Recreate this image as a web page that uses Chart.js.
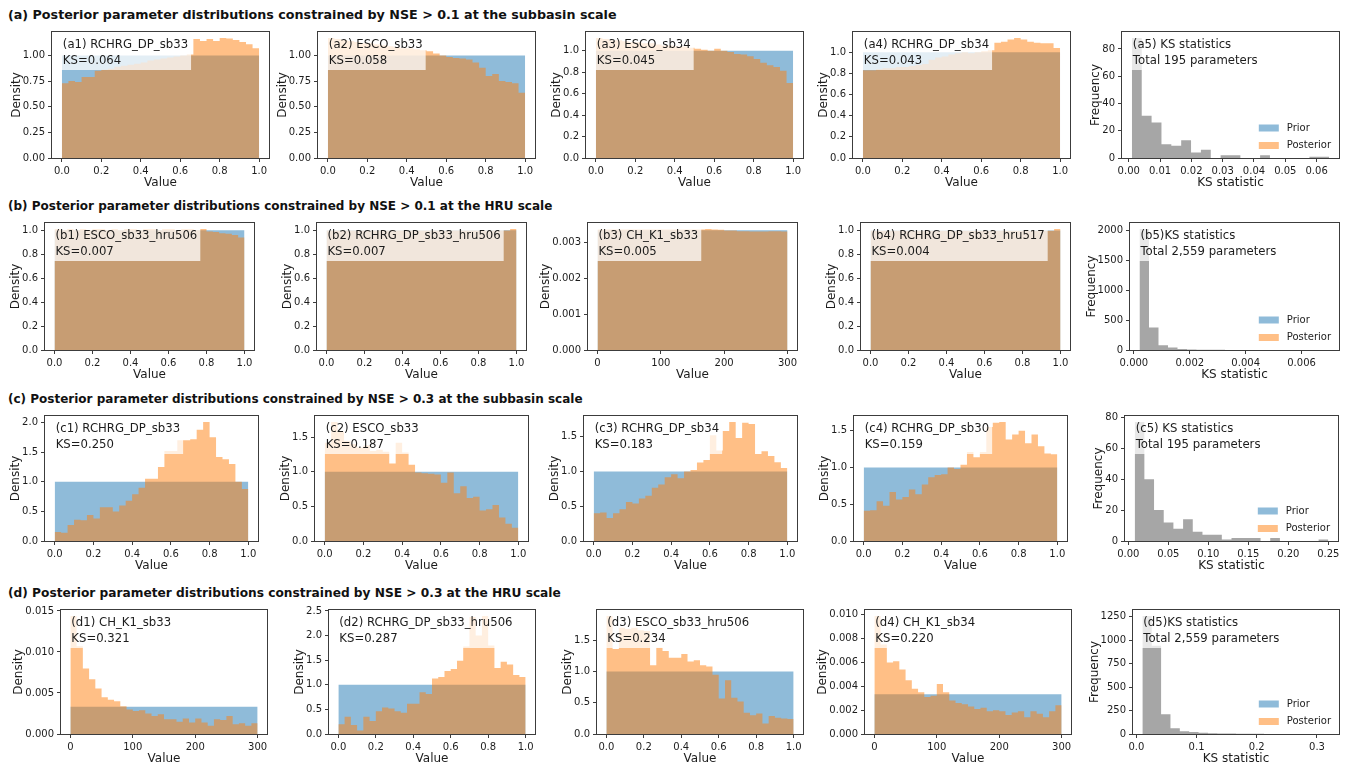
<!DOCTYPE html>
<html>
<head>
<meta charset="utf-8">
<script src="https://cdn.jsdelivr.net/npm/chart.js@4.4.1/dist/chart.umd.min.js"></script>
<style>
  html, body { margin: 0; padding: 0; background: #fff; }
  #fig { position: relative; width: 1351px; height: 768px; overflow: hidden; background: #fff; }
  #fig canvas { position: absolute; }
  .row-title { position: absolute; left: 8px; font-family: "DejaVu Sans", sans-serif; font-weight: bold; color: #111; white-space: nowrap; line-height: 14px; }
</style>
</head>
<body>
<div id="fig"></div>
<script>
// ---------- row headings ----------
const ROW_TITLES = [
  '(a) Posterior parameter distributions constrained by NSE > 0.1 at the subbasin scale',
  '(b) Posterior parameter distributions constrained by NSE > 0.1 at the HRU scale',
  '(c) Posterior parameter distributions constrained by NSE > 0.3 at the subbasin scale',
  '(d) Posterior parameter distributions constrained by NSE > 0.3 at the HRU scale'
];

// ---------- parameter ranges (histogram limits, 30 bins) ----------
const RANGE_UNIT = [0, 1];
const RANGE_CH_K1 = [0, 300];

// ---------- prior densities (uniform sampling) ----------
const PRIOR_UNIT = [1.00, 1.00, 1.00, 1.00, 1.00, 1.00, 1.00, 1.00, 1.00, 1.00,
                    1.00, 1.00, 1.00, 1.00, 1.00, 1.00, 1.00, 1.00, 1.00, 1.00,
                    1.00, 1.00, 1.00, 1.00, 1.00, 1.00, 1.00, 1.00, 1.00, 1.00];
const PRIOR_CH_K1 = [0.00333, 0.00333, 0.00333, 0.00333, 0.00333, 0.00333, 0.00333, 0.00333, 0.00333, 0.00333,
                     0.00333, 0.00333, 0.00333, 0.00333, 0.00333, 0.00333, 0.00333, 0.00333, 0.00333, 0.00333,
                     0.00333, 0.00333, 0.00333, 0.00333, 0.00333, 0.00333, 0.00333, 0.00333, 0.00333, 0.00333];

// ---------- posterior densities ----------
const POST_A1 = [0.73, 0.75, 0.74, 0.79, 0.79, 0.85, 0.86, 0.87, 0.89, 0.90,
                 0.91, 0.92, 0.93, 0.95, 0.96, 0.97, 0.98, 0.99, 1.00, 1.01,
                 1.16, 1.14, 1.16, 1.14, 1.17, 1.165, 1.15, 1.13, 1.11, 1.07];
const POST_A2 = [1.17, 1.16, 1.15, 1.14, 1.13, 1.12, 1.12, 1.11, 1.10, 1.09,
                 1.08, 1.07, 1.07, 1.06, 1.05, 1.04, 1.02, 1.00, 0.985, 0.975,
                 0.97, 0.96, 0.93, 0.88, 0.80, 0.82, 0.75, 0.74, 0.73, 0.635];
const POST_A3 = [1.12, 1.11, 1.10, 1.10, 1.09, 1.08, 1.08, 1.07, 1.07, 1.06,
                 1.05, 1.05, 1.04, 1.04, 1.03, 1.02, 1.01, 1.00, 1.02, 1.00,
                 0.99, 0.97, 0.965, 0.95, 0.925, 0.89, 0.865, 0.85, 0.815, 0.70];
const POST_A4 = [0.83, 0.83, 0.84, 0.85, 0.85, 0.86, 0.86, 0.87, 0.88, 0.89,
                 0.93, 0.95, 0.96, 0.98, 0.99, 1.00, 0.99, 1.00, 1.01, 1.02,
                 1.09, 1.10, 1.12, 1.135, 1.12, 1.10, 1.09, 1.085, 1.085, 1.04];

const POST_B1 = [1.01, 1.00, 1.01, 1.00, 1.01, 1.00, 1.01, 1.01, 1.00, 1.01,
                 1.00, 1.01, 1.01, 1.00, 1.01, 1.01, 1.00, 1.01, 1.01, 1.00,
                 1.01, 1.01, 1.00, 1.01, 0.99, 0.985, 0.975, 0.97, 0.96, 0.94];
const POST_B2 = [0.997, 0.998, 0.997, 0.998, 0.997, 0.998, 0.997, 0.998, 0.997, 0.998,
                 0.997, 0.998, 0.997, 0.998, 0.997, 0.998, 0.997, 0.998, 0.997, 0.998,
                 0.997, 0.998, 0.997, 0.998, 0.997, 0.998, 0.997, 0.998, 0.997, 1.01];
const POST_B3 = [0.00335, 0.00335, 0.00335, 0.00335, 0.00335, 0.00335, 0.00335, 0.00335, 0.00335, 0.00335,
                 0.00335, 0.00335, 0.00335, 0.00335, 0.00335, 0.00335, 0.00335, 0.00336, 0.00335, 0.00334,
                 0.00332, 0.00332, 0.00330, 0.00330, 0.00329, 0.00329, 0.00329, 0.00330, 0.00330, 0.00329];
const POST_B4 = [0.998, 0.997, 0.998, 0.997, 0.998, 0.997, 0.998, 0.997, 0.998, 0.997,
                 0.998, 0.997, 0.998, 0.997, 0.998, 0.997, 0.998, 0.997, 0.998, 0.997,
                 0.998, 0.997, 0.998, 0.997, 0.998, 0.997, 0.998, 0.997, 0.998, 1.012];

const POST_C1 = [0.15, 0.14, 0.27, 0.36, 0.35, 0.44, 0.38, 0.57, 0.57, 0.50,
                 0.60, 0.68, 0.79, 0.90, 1.05, 1.05, 1.25, 1.52, 1.52, 1.70,
                 1.70, 1.72, 1.88, 2.01, 1.75, 1.42, 1.38, 1.30, 1.00, 0.88];
const POST_C2 = [1.42, 1.72, 1.58, 1.45, 1.40, 1.35, 1.38, 1.30, 1.32, 1.29,
                 1.12, 1.42, 1.28, 1.10, 0.99, 0.98, 0.97, 0.96, 0.84, 0.99,
                 0.69, 0.79, 0.62, 0.64, 0.44, 0.46, 0.52, 0.34, 0.25, 0.19];
const POST_C3 = [0.40, 0.41, 0.33, 0.40, 0.455, 0.56, 0.54, 0.61, 0.65, 0.765,
                 0.81, 0.915, 0.96, 0.90, 1.00, 1.02, 1.127, 1.164, 1.52, 1.30,
                 1.58, 1.71, 1.48, 1.70, 1.68, 1.25, 1.29, 1.22, 1.13, 1.05];
const POST_C4 = [0.41, 0.42, 0.54, 0.48, 0.667, 0.564, 0.60, 0.70, 0.636, 0.77,
                 0.867, 0.898, 0.91, 1.00, 0.98, 1.036, 1.21, 1.14, 1.21, 1.55,
                 1.61, 1.62, 1.38, 1.45, 1.50, 1.33, 1.45, 1.29, 1.19, 1.18];

const POST_D1 = [0.0144, 0.0107, 0.0080, 0.00667, 0.00556, 0.00448, 0.00417, 0.0040, 0.00337, 0.0030,
                 0.0028, 0.0029, 0.0025, 0.0022, 0.0024, 0.0018, 0.0018, 0.0015, 0.0019, 0.0014,
                 0.0019, 0.0014, 0.0010, 0.0018, 0.0017, 0.0022, 0.0012, 0.0013, 0.0010, 0.0013];
const POST_D2 = [0.20, 0.35, 0.185, 0.073, 0.35, 0.265, 0.46, 0.54, 0.52, 0.46,
                 0.43, 0.615, 0.615, 0.85, 0.815, 1.126, 1.16, 1.28, 1.32, 1.49,
                 1.78, 2.38, 2.00, 2.40, 1.80, 1.34, 1.47, 1.41, 1.20, 1.16];
const POST_D3 = [1.89, 1.36, 1.70, 1.68, 1.70, 1.66, 1.65, 1.10, 1.38, 1.33,
                 1.22, 1.22, 1.28, 1.16, 1.18, 1.10, 1.08, 0.95, 0.57, 0.86,
                 0.58, 0.52, 0.34, 0.30, 0.33, 0.17, 0.29, 0.26, 0.25, 0.24];
const POST_D4 = [0.0099, 0.0075, 0.0060, 0.0061, 0.0054, 0.0045, 0.0038, 0.0035, 0.0031, 0.0032,
                 0.0042, 0.0035, 0.0028, 0.0026, 0.0025, 0.0023, 0.0021, 0.0022, 0.0019, 0.0020,
                 0.0019, 0.0016, 0.0018, 0.0019, 0.0014, 0.0019, 0.0017, 0.0014, 0.0019, 0.0024];

// ---------- KS statistic histograms (20 bins between min and max KS) ----------
const KS_RANGE_A = [0.001, 0.064];
const KS_RANGE_B = [0.0002, 0.007];
const KS_RANGE_C = [0.008, 0.250];
const KS_RANGE_D = [0.010, 0.321];
const KS_COUNTS_A = [88, 31, 26, 10, 9, 13, 4, 6, 0, 2, 2, 0, 0, 2, 0, 0, 0, 0, 1, 1];
const KS_COUNTS_B = [2016, 376, 80, 43, 16, 10, 5, 4, 3, 2, 1, 1, 1, 0, 0, 0, 0, 0, 0, 1];
const KS_COUNTS_C = [77, 40, 20, 12, 8, 14, 6, 4, 4, 1, 2, 2, 2, 0, 2, 0, 0, 0, 0, 1];
const KS_COUNTS_D = [1259, 940, 210, 60, 30, 20, 12, 8, 5, 4, 3, 2, 2, 1, 1, 0, 0, 1, 0, 1];

// ---------- tick labels ----------
const XT_UNIT = [0, 0.2, 0.4, 0.6, 0.8, 1.0];
const XT_CH_K1 = [0, 100, 200, 300];
const XT_KS_A = [0, 0.01, 0.02, 0.03, 0.04, 0.05, 0.06];
const XT_KS_B = [0, 0.002, 0.004, 0.006];
const XT_KS_C = [0, 0.05, 0.10, 0.15, 0.20, 0.25];
const XT_KS_D = [0, 0.1, 0.2, 0.3];
const YT_QUARTER = [0, 0.25, 0.5, 0.75, 1.0];
const YT_FIFTH = [0, 0.2, 0.4, 0.6, 0.8, 1.0];
const YT_HALF_15 = [0, 0.5, 1.0, 1.5];
const YT_HALF_20 = [0, 0.5, 1.0, 1.5, 2.0];
const YT_HALF_25 = [0, 0.5, 1.0, 1.5, 2.0, 2.5];
const YT_K1_B = [0, 0.001, 0.002, 0.003];
const YT_K1_D1 = [0, 0.005, 0.010, 0.015];
const YT_K1_D4 = [0, 0.002, 0.004, 0.006, 0.008, 0.010];
const YT_FREQ_A = [0, 20, 40, 60, 80];
const YT_FREQ_B = [0, 500, 1000, 1500, 2000];
const YT_FREQ_D = [0, 250, 500, 750, 1000, 1250];

// ---------- series names ----------
const LEGEND_LABELS = ['Prior', 'Posterior'];

// ---------- styling ----------
const FONT = '"DejaVu Sans", "Liberation Sans", sans-serif';
const PRIOR_COLOR = 'rgba(31,119,180,0.5)';
const POST_COLOR = 'rgba(255,127,14,0.5)';
const KS_COLOR = 'rgba(128,128,128,0.7)';
const BOX_FILL = 'rgba(255,255,255,0.75)';
const SPINE = '#3c3c3c';
const INK = '#1c1c1c';
const TICK_PX = 10, LABEL_PX = 12, TEXT_PX = 11.7, LEGEND_PX = 10;
const ROW_TITLE_PX = [12.7, 12, 12, 12.2];

// ---------- grid geometry (axes frames, one set per row) ----------
const ROW_COL_LEFT = [
  [52, 318, 586, 853, 1122],
  [45, 317, 588, 861, 1130],
  [45, 315, 584, 854, 1125],
  [61, 329, 597, 865, 1133]
];
const ROW_W = [217, 209, 213, 206];
const ROW_TOP = [29, 220, 413, 607];
const ROW_H = [129, 130, 128, 127];
const PAD_L = 64, PAD_R = 10, PAD_T = 6, PAD_B = 38;

// ---------- panels ----------
const PANELS = [
  { row: 0, col: 0, tag: '(a1) RCHRG_DP_sb33', sub: 'KS=0.064', range: RANGE_UNIT, prior: PRIOR_UNIT, post: POST_A1, xt: XT_UNIT, xd: 1, yt: YT_QUARTER, yd: 2 },
  { row: 0, col: 1, tag: '(a2) ESCO_sb33', sub: 'KS=0.058', range: RANGE_UNIT, prior: PRIOR_UNIT, post: POST_A2, xt: XT_UNIT, xd: 1, yt: YT_QUARTER, yd: 2 },
  { row: 0, col: 2, tag: '(a3) ESCO_sb34', sub: 'KS=0.045', range: RANGE_UNIT, prior: PRIOR_UNIT, post: POST_A3, xt: XT_UNIT, xd: 1, yt: YT_FIFTH, yd: 1 },
  { row: 0, col: 3, tag: '(a4) RCHRG_DP_sb34', sub: 'KS=0.043', range: RANGE_UNIT, prior: PRIOR_UNIT, post: POST_A4, xt: XT_UNIT, xd: 1, yt: YT_FIFTH, yd: 1 },
  { row: 0, col: 4, tag: '(a5) KS statistics', sub: 'Total 195 parameters', range: KS_RANGE_A, counts: KS_COUNTS_A, xt: XT_KS_A, xd: 2, yt: YT_FREQ_A, yd: 0 },

  { row: 1, col: 0, tag: '(b1) ESCO_sb33_hru506', sub: 'KS=0.007', range: RANGE_UNIT, prior: PRIOR_UNIT, post: POST_B1, xt: XT_UNIT, xd: 1, yt: YT_FIFTH, yd: 1 },
  { row: 1, col: 1, tag: '(b2) RCHRG_DP_sb33_hru506', sub: 'KS=0.007', range: RANGE_UNIT, prior: PRIOR_UNIT, post: POST_B2, xt: XT_UNIT, xd: 1, yt: YT_FIFTH, yd: 1 },
  { row: 1, col: 2, tag: '(b3) CH_K1_sb33', sub: 'KS=0.005', range: RANGE_CH_K1, prior: PRIOR_CH_K1, post: POST_B3, xt: XT_CH_K1, xd: 0, yt: YT_K1_B, yd: 3 },
  { row: 1, col: 3, tag: '(b4) RCHRG_DP_sb33_hru517', sub: 'KS=0.004', range: RANGE_UNIT, prior: PRIOR_UNIT, post: POST_B4, xt: XT_UNIT, xd: 1, yt: YT_FIFTH, yd: 1 },
  { row: 1, col: 4, tag: '(b5)KS statistics', sub: 'Total 2,559 parameters', range: KS_RANGE_B, counts: KS_COUNTS_B, xt: XT_KS_B, xd: 3, yt: YT_FREQ_B, yd: 0 },

  { row: 2, col: 0, tag: '(c1) RCHRG_DP_sb33', sub: 'KS=0.250', range: RANGE_UNIT, prior: PRIOR_UNIT, post: POST_C1, xt: XT_UNIT, xd: 1, yt: YT_HALF_20, yd: 1 },
  { row: 2, col: 1, tag: '(c2) ESCO_sb33', sub: 'KS=0.187', range: RANGE_UNIT, prior: PRIOR_UNIT, post: POST_C2, xt: XT_UNIT, xd: 1, yt: YT_HALF_15, yd: 1 },
  { row: 2, col: 2, tag: '(c3) RCHRG_DP_sb34', sub: 'KS=0.183', range: RANGE_UNIT, prior: PRIOR_UNIT, post: POST_C3, xt: XT_UNIT, xd: 1, yt: YT_HALF_15, yd: 1 },
  { row: 2, col: 3, tag: '(c4) RCHRG_DP_sb30', sub: 'KS=0.159', range: RANGE_UNIT, prior: PRIOR_UNIT, post: POST_C4, xt: XT_UNIT, xd: 1, yt: YT_HALF_15, yd: 1 },
  { row: 2, col: 4, tag: '(c5) KS statistics', sub: 'Total 195 parameters', range: KS_RANGE_C, counts: KS_COUNTS_C, xt: XT_KS_C, xd: 2, yt: YT_FREQ_A, yd: 0 },

  { row: 3, col: 0, tag: '(d1) CH_K1_sb33', sub: 'KS=0.321', range: RANGE_CH_K1, prior: PRIOR_CH_K1, post: POST_D1, xt: XT_CH_K1, xd: 0, yt: YT_K1_D1, yd: 3 },
  { row: 3, col: 1, tag: '(d2) RCHRG_DP_sb33_hru506', sub: 'KS=0.287', range: RANGE_UNIT, prior: PRIOR_UNIT, post: POST_D2, xt: XT_UNIT, xd: 1, yt: YT_HALF_25, yd: 1 },
  { row: 3, col: 2, tag: '(d3) ESCO_sb33_hru506', sub: 'KS=0.234', range: RANGE_UNIT, prior: PRIOR_UNIT, post: POST_D3, xt: XT_UNIT, xd: 1, yt: YT_HALF_15, yd: 1 },
  { row: 3, col: 3, tag: '(d4) CH_K1_sb34', sub: 'KS=0.220', range: RANGE_CH_K1, prior: PRIOR_CH_K1, post: POST_D4, xt: XT_CH_K1, xd: 0, yt: YT_K1_D4, yd: 3 },
  { row: 3, col: 4, tag: '(d5)KS statistics', sub: 'Total 2,559 parameters', range: KS_RANGE_D, counts: KS_COUNTS_D, xt: XT_KS_D, xd: 1, yt: YT_FREQ_D, yd: 0 }
];

const fig = document.getElementById('fig');

ROW_TITLES.forEach((t, r) => {
  const d = document.createElement('div');
  d.className = 'row-title';
  d.textContent = t;
  d.style.fontSize = ROW_TITLE_PX[r] + 'px';
  d.style.top = (ROW_TOP[r] - 21) + 'px';
  fig.appendChild(d);
});

// bin edges of an equal-width histogram
function binEdges(lo, hi, n) {
  const w = (hi - lo) / n;
  return Array.from({ length: n + 1 }, (_, i) => lo + i * w);
}

// frame, annotation box, axis titles and (for KS panels) the legend
const panelDecor = {
  id: 'panelDecor',
  afterDraw(chart, args, opts) {
    const sp = opts.spec;
    if (!sp) return;
    const { ctx, chartArea: a } = chart;
    const w = a.right - a.left;
    ctx.save();

    // annotation box
    ctx.font = `${TEXT_PX}px ${FONT}`;
    const tx = a.left + 0.05 * w;
    const tw = Math.max(ctx.measureText(sp.tag).width, ctx.measureText(sp.sub).width);
    ctx.fillStyle = BOX_FILL;
    ctx.fillRect(tx - 2, a.top + 3, tw + 5, 35);
    ctx.fillStyle = INK;
    ctx.textAlign = 'left';
    ctx.textBaseline = 'alphabetic';
    ctx.fillText(sp.tag, tx, a.top + 16);
    ctx.fillText(sp.sub, tx, a.top + 32);

    // legend
    if (sp.counts) {
      ctx.font = `${LEGEND_PX}px ${FONT}`;
      const colors = [PRIOR_COLOR, POST_COLOR];
      const lw = Math.max(...LEGEND_LABELS.map(s => ctx.measureText(s).width));
      const lx = a.right - 8 - lw;
      LEGEND_LABELS.forEach((label, k) => {
        const cy = a.bottom - 30 + k * 17.5;
        ctx.fillStyle = colors[k];
        ctx.fillRect(lx - 28, cy - 3.5, 20, 7);
        ctx.fillStyle = INK;
        ctx.textBaseline = 'middle';
        ctx.fillText(label, lx, cy);
      });
    }

    // axes frame
    ctx.strokeStyle = SPINE;
    ctx.lineWidth = 1;
    ctx.strokeRect(a.left - 0.5, a.top - 0.5, w + 1, a.bottom - a.top + 1);

    // axis titles
    ctx.fillStyle = INK;
    ctx.textAlign = 'center';
    ctx.textBaseline = 'middle';
    ctx.font = `${LABEL_PX}px ${FONT}`;
    ctx.fillText(sp.counts ? 'KS statistic' : 'Value', (a.left + a.right) / 2, a.bottom + 25);
    ctx.font = `${TICK_PX}px ${FONT}`;
    const yl = Math.max(...chart.scales.y.ticks.map(t => ctx.measureText(String(t.label)).width));
    const yx = a.left - 4 - 3 - yl - 6;
    ctx.font = `${LABEL_PX}px ${FONT}`;
    ctx.translate(yx, (a.top + a.bottom) / 2);
    ctx.rotate(-Math.PI / 2);
    ctx.fillText(sp.counts ? 'Frequency' : 'Density', 0, 0);
    ctx.restore();
  }
};

function makePanel(sp) {
  const L = ROW_COL_LEFT[sp.row][sp.col], T = ROW_TOP[sp.row], W = ROW_W[sp.row], H = ROW_H[sp.row];
  const cw = W + PAD_L + PAD_R, ch = H + PAD_T + PAD_B;
  const canvas = document.createElement('canvas');
  canvas.width = cw; canvas.height = ch;
  canvas.style.left = (L - PAD_L) + 'px';
  canvas.style.top = (T - PAD_T) + 'px';
  canvas.style.width = cw + 'px';
  canvas.style.height = ch + 'px';
  fig.appendChild(canvas);

  const [lo, hi] = sp.range;
  // posterior sits above the prior (lower order value is drawn last)
  const series = sp.counts
    ? [{ label: 'KS', values: sp.counts, color: KS_COLOR, order: 1 }]
    : [{ label: LEGEND_LABELS[0], values: sp.prior, color: PRIOR_COLOR, order: 2 },
       { label: LEGEND_LABELS[1], values: sp.post, color: POST_COLOR, order: 1 }];
  const n = series[0].values.length;
  const edges = binEdges(lo, hi, n);
  const span = hi - lo;
  const ymax = 1.05 * Math.max(...series.flatMap(s => s.values));

  const tickFont = { family: FONT, size: TICK_PX };
  const gridOpts = { display: true, drawOnChartArea: false, drawTicks: true, tickLength: 4, color: SPINE, lineWidth: 1, offset: false };

  new Chart(canvas, {
    type: 'line',
    data: {
      datasets: series.map(s => ({
        label: s.label,
        // each bin holds its height from its left edge to the next edge;
        // the closing edge repeats the final bin height
        data: edges.map((x, i) => ({ x, y: s.values[Math.min(i, n - 1)] })),
        stepped: 'before',
        fill: 'origin',
        backgroundColor: s.color,
        borderColor: 'rgba(0,0,0,0)',
        borderWidth: 0,
        pointRadius: 0,
        pointHoverRadius: 0,
        order: s.order
      }))
    },
    options: {
      responsive: false,
      animation: false,
      devicePixelRatio: 1,
      events: [],
      layout: { autoPadding: false, padding: { top: PAD_T, right: PAD_R, left: 0, bottom: 0 } },
      plugins: { legend: { display: false }, tooltip: { enabled: false }, panelDecor: { spec: sp } },
      scales: {
        x: {
          type: 'linear', offset: false,
          min: lo - 0.05 * span, max: hi + 0.05 * span,
          afterBuildTicks: s => { s.ticks = sp.xt.map(v => ({ value: v })); },
          afterFit: s => { s.height = PAD_B; },
          ticks: { autoSkip: false, maxRotation: 0, minRotation: 0, padding: 3, color: INK, font: tickFont,
                   callback: v => Number(v).toFixed(sp.xd) },
          grid: gridOpts,
          border: { display: false }
        },
        y: {
          type: 'linear', min: 0, max: ymax,
          afterBuildTicks: s => { s.ticks = sp.yt.map(v => ({ value: v })); },
          afterFit: s => { s.width = PAD_L; },
          ticks: { autoSkip: false, padding: 3, color: INK, font: tickFont,
                   callback: v => Number(v).toFixed(sp.yd) },
          grid: gridOpts,
          border: { display: false }
        }
      }
    },
    plugins: [panelDecor]
  });
}

PANELS.forEach(makePanel);
</script>
</body>
</html>
